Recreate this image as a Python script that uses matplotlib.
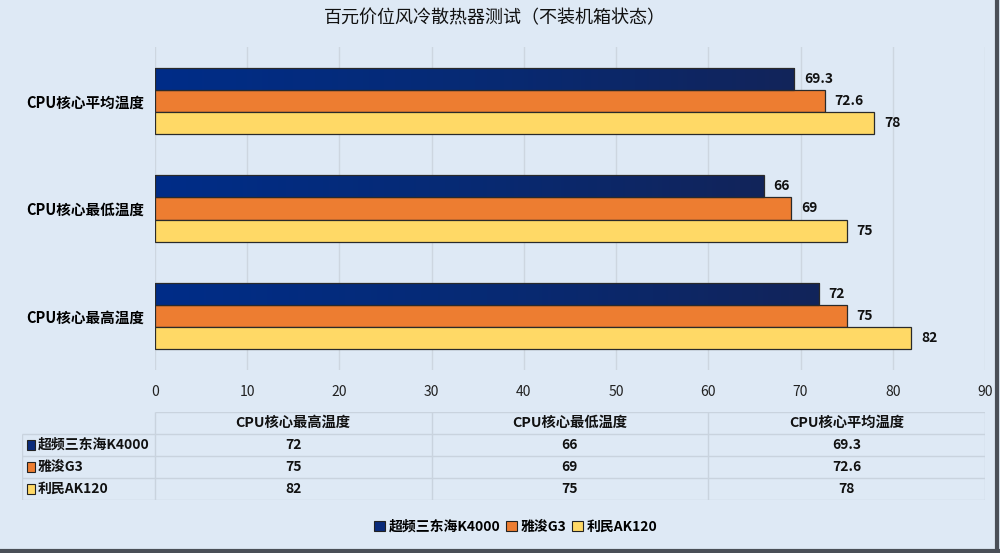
import matplotlib
matplotlib.use('Agg')
import matplotlib.pyplot as plt
import numpy as np
from matplotlib.patches import Patch, Rectangle
from matplotlib.lines import Line2D

plt.rcParams['font.family'] = ['Noto Sans CJK SC', 'DejaVu Sans']

# data
categories = ['CPU核心最高温度', 'CPU核心最低温度', 'CPU核心平均温度']
series = ['超频三东海K4000', '雅浚G3', '利民AK120']
vals_k4000 = [72, 66, 69.3]
vals_g3 = [75, 69, 72.6]
vals_ak120 = [82, 75, 78]
title = '百元价位风冷散热器测试（不装机箱状态）'

all_vals = [vals_k4000, vals_g3, vals_ak120]
colors = ['#0A2B7A', '#ED7D31', '#FFD966']
bg = '#DEE9F5'
grid_c = '#CDD6E0'

fig = plt.figure(figsize=(10, 5.53), dpi=100)
fig.patch.set_facecolor(bg)

ax = fig.add_axes([0.155, 0.331, 0.83, 0.584])
ax.set_facecolor(bg)

y = np.arange(len(categories))
h = 0.205
offsets = [h, 0, -h]
bars_all = []
for vals, off, c in zip(all_vals, offsets, colors):
    bars = ax.barh(y + off, vals, height=h, color=c, edgecolor='#2a2a2a', linewidth=0.9, zorder=3)
    bars_all.append(bars)
    for b, v in zip(bars, vals):
        ax.annotate(f'{v:g}', (v, b.get_y() + b.get_height() / 2), xytext=(7, 0),
                    textcoords='offset points', va='center', ha='left',
                    fontsize=10, fontweight='bold', color='#111111')

ax.set_xlim(0, 90)
ax.set_ylim(-0.5, 2.5)

# gradient on the dark blue bars
grad = np.linspace(0, 1, 256).reshape(1, -1)
cmap = matplotlib.colors.LinearSegmentedColormap.from_list('g', ['#002D88', '#072A74', '#12245A'])
for b in bars_all[0]:
    x0, y0, w, hh = b.get_x(), b.get_y(), b.get_width(), b.get_height()
    im = ax.imshow(grad, extent=[x0, x0 + w, y0, y0 + hh], cmap=cmap, aspect='auto', zorder=3.5)
    im.set_clip_path(b)
    b.set_facecolor('none')
    b.set_zorder(4)
ax.set_xlim(0, 90)
ax.set_ylim(-0.5, 2.5)

ax.set_xticks(np.arange(0, 91, 10))
ax.set_yticks(y)
ax.set_yticklabels(categories, fontsize=10.5, fontweight='bold')
ax.tick_params(axis='x', length=0, pad=11, labelsize=10, labelcolor='#222222')
ax.tick_params(axis='y', length=0, pad=8)
ax.grid(axis='x', color=grid_c, linewidth=1, zorder=0)
for s in ax.spines.values():
    s.set_visible(False)

# data table
tax = fig.add_axes([0.022, 1 - 500 / 553, 0.963, 88 / 553])
tax.set_facecolor('none')
lab_w = 133 / 277
tax.set_xlim(-lab_w, 3)
tax.set_ylim(4, 0)
tax.axis('off')
tcol = '#C9D3DE'
tax.hlines(0, 0, 3, color=tcol, lw=1)
tax.hlines([1, 2, 3, 4], -lab_w, 3, color=tcol, lw=1)
tax.vlines([0, 1, 2, 3], 0, 4, color=tcol, lw=1)
tax.vlines(-lab_w, 1, 4, color=tcol, lw=1)
for j, cat in enumerate(categories):
    tax.text(j + 0.5, 0.5, cat, ha='center', va='center', fontsize=10.3, fontweight='bold', color='#111111')
for i, (name, vals, c) in enumerate(zip(series, all_vals, colors)):
    r = i + 1.5
    tax.add_patch(Rectangle((-lab_w + 0.018, r - 0.22), 0.03, 0.44, facecolor=c,
                            edgecolor='#222222', lw=0.8, clip_on=False))
    tax.text(-lab_w + 0.058, r, name, ha='left', va='center', fontsize=10, fontweight='bold', color='#111111')
    for j, v in enumerate(vals):
        tax.text(j + 0.5, r, f'{v:g}', ha='center', va='center', fontsize=10, fontweight='bold', color='#111111')

# legend
handles = [Patch(facecolor=c, edgecolor='#222222', lw=0.8) for c in colors]
fig.legend(handles, series, loc='center', bbox_to_anchor=(0.516, 1 - 527 / 553), ncol=3,
           frameon=False, handlelength=0.75, handleheight=0.75, handletextpad=0.3,
           columnspacing=0.4, prop={'size': 10, 'weight': 'bold'})

fig.text(0.495, 1 - 18 / 553, title, ha='center', va='center', fontsize=13, color='#111111')

# frame on right and bottom
fig.add_artist(Line2D([0.997, 0.997], [0, 1], color='#4a4f57', lw=3))
fig.add_artist(Line2D([0, 1], [0.003, 0.003], color='#4a4f57', lw=3))

fig.savefig('out.png', dpi=100, facecolor=bg)
